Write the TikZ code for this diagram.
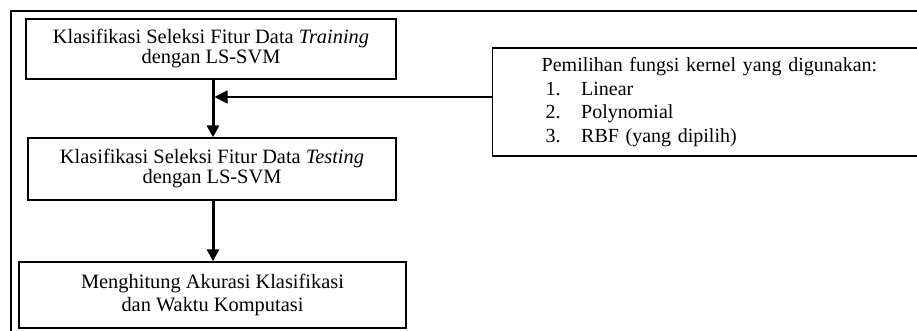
\documentclass[tikz,border=0pt]{standalone}
\usepackage{fontspec}
\setmainfont{Liberation Serif}
\usetikzlibrary{arrows.meta}

\tikzset{
  stagebox/.style={draw, line width=1.4pt, align=center, inner sep=0pt,
                   font=\fontsize{20.4}{20}\selectfont},
  kernelbox/.style={draw, line width=1.4pt, align=left, anchor=west,
                    inner xsep=49pt, inner ysep=0pt,
                    font=\fontsize{20}{23.5}\selectfont},
  flowarrow/.style={line width=3pt, -{Triangle[length=12pt,width=12pt]}},
  sidearrow/.style={line width=1.5pt, -{Triangle[length=13pt,width=13pt]}}
}
\newcommand{\kitem}[2]{\hspace*{4pt}\makebox[35.5pt][l]{#1}#2}

\begin{document}
\begin{tikzpicture}[x=1pt,y=-1pt]
  \useasboundingbox (0,0) rectangle (917,331);
  \clip (0,0) rectangle (917,331);
  % outer frame
  \draw[line width=1.4pt] (11,345) -- (11,11) -- (930,11);
  % stages
  \node[stagebox, minimum width=370pt, minimum height=60pt] (train) at (211,49)
    {Klasifikasi Seleksi Fitur Data \textit{Training}\\dengan LS-SVM};
  \node[stagebox, minimum width=368pt, minimum height=62pt] (test) at (212,169)
    {Klasifikasi Seleksi Fitur Data \textit{Testing}\\dengan LS-SVM};
  \node[stagebox, minimum width=387pt, minimum height=66pt,
        font=\fontsize{20.4}{23.5}\selectfont] (akurasi) at (212.5,295)
    {Menghitung Akurasi Klasifikasi\\dan Waktu Komputasi};
  % kernel choice
  \node[kernelbox, text width=337pt, minimum height=108pt] (kernel) at (492,102)
    {Pemilihan fungsi kernel yang digunakan:\\
     \kitem{1.}{Linear}\\
     \kitem{2.}{Polynomial}\\
     \kitem{3.}{RBF (yang dipilih)}};
  \coordinate (join) at (213,97);
  \draw[flowarrow] (train.south -| join) -- (test.north -| join);
  \draw[flowarrow] (test.south -| join) -- (akurasi.north -| join);
  \draw[sidearrow] (kernel.west |- join) -- ([xshift=1.5pt]join);
\end{tikzpicture}
\end{document}
